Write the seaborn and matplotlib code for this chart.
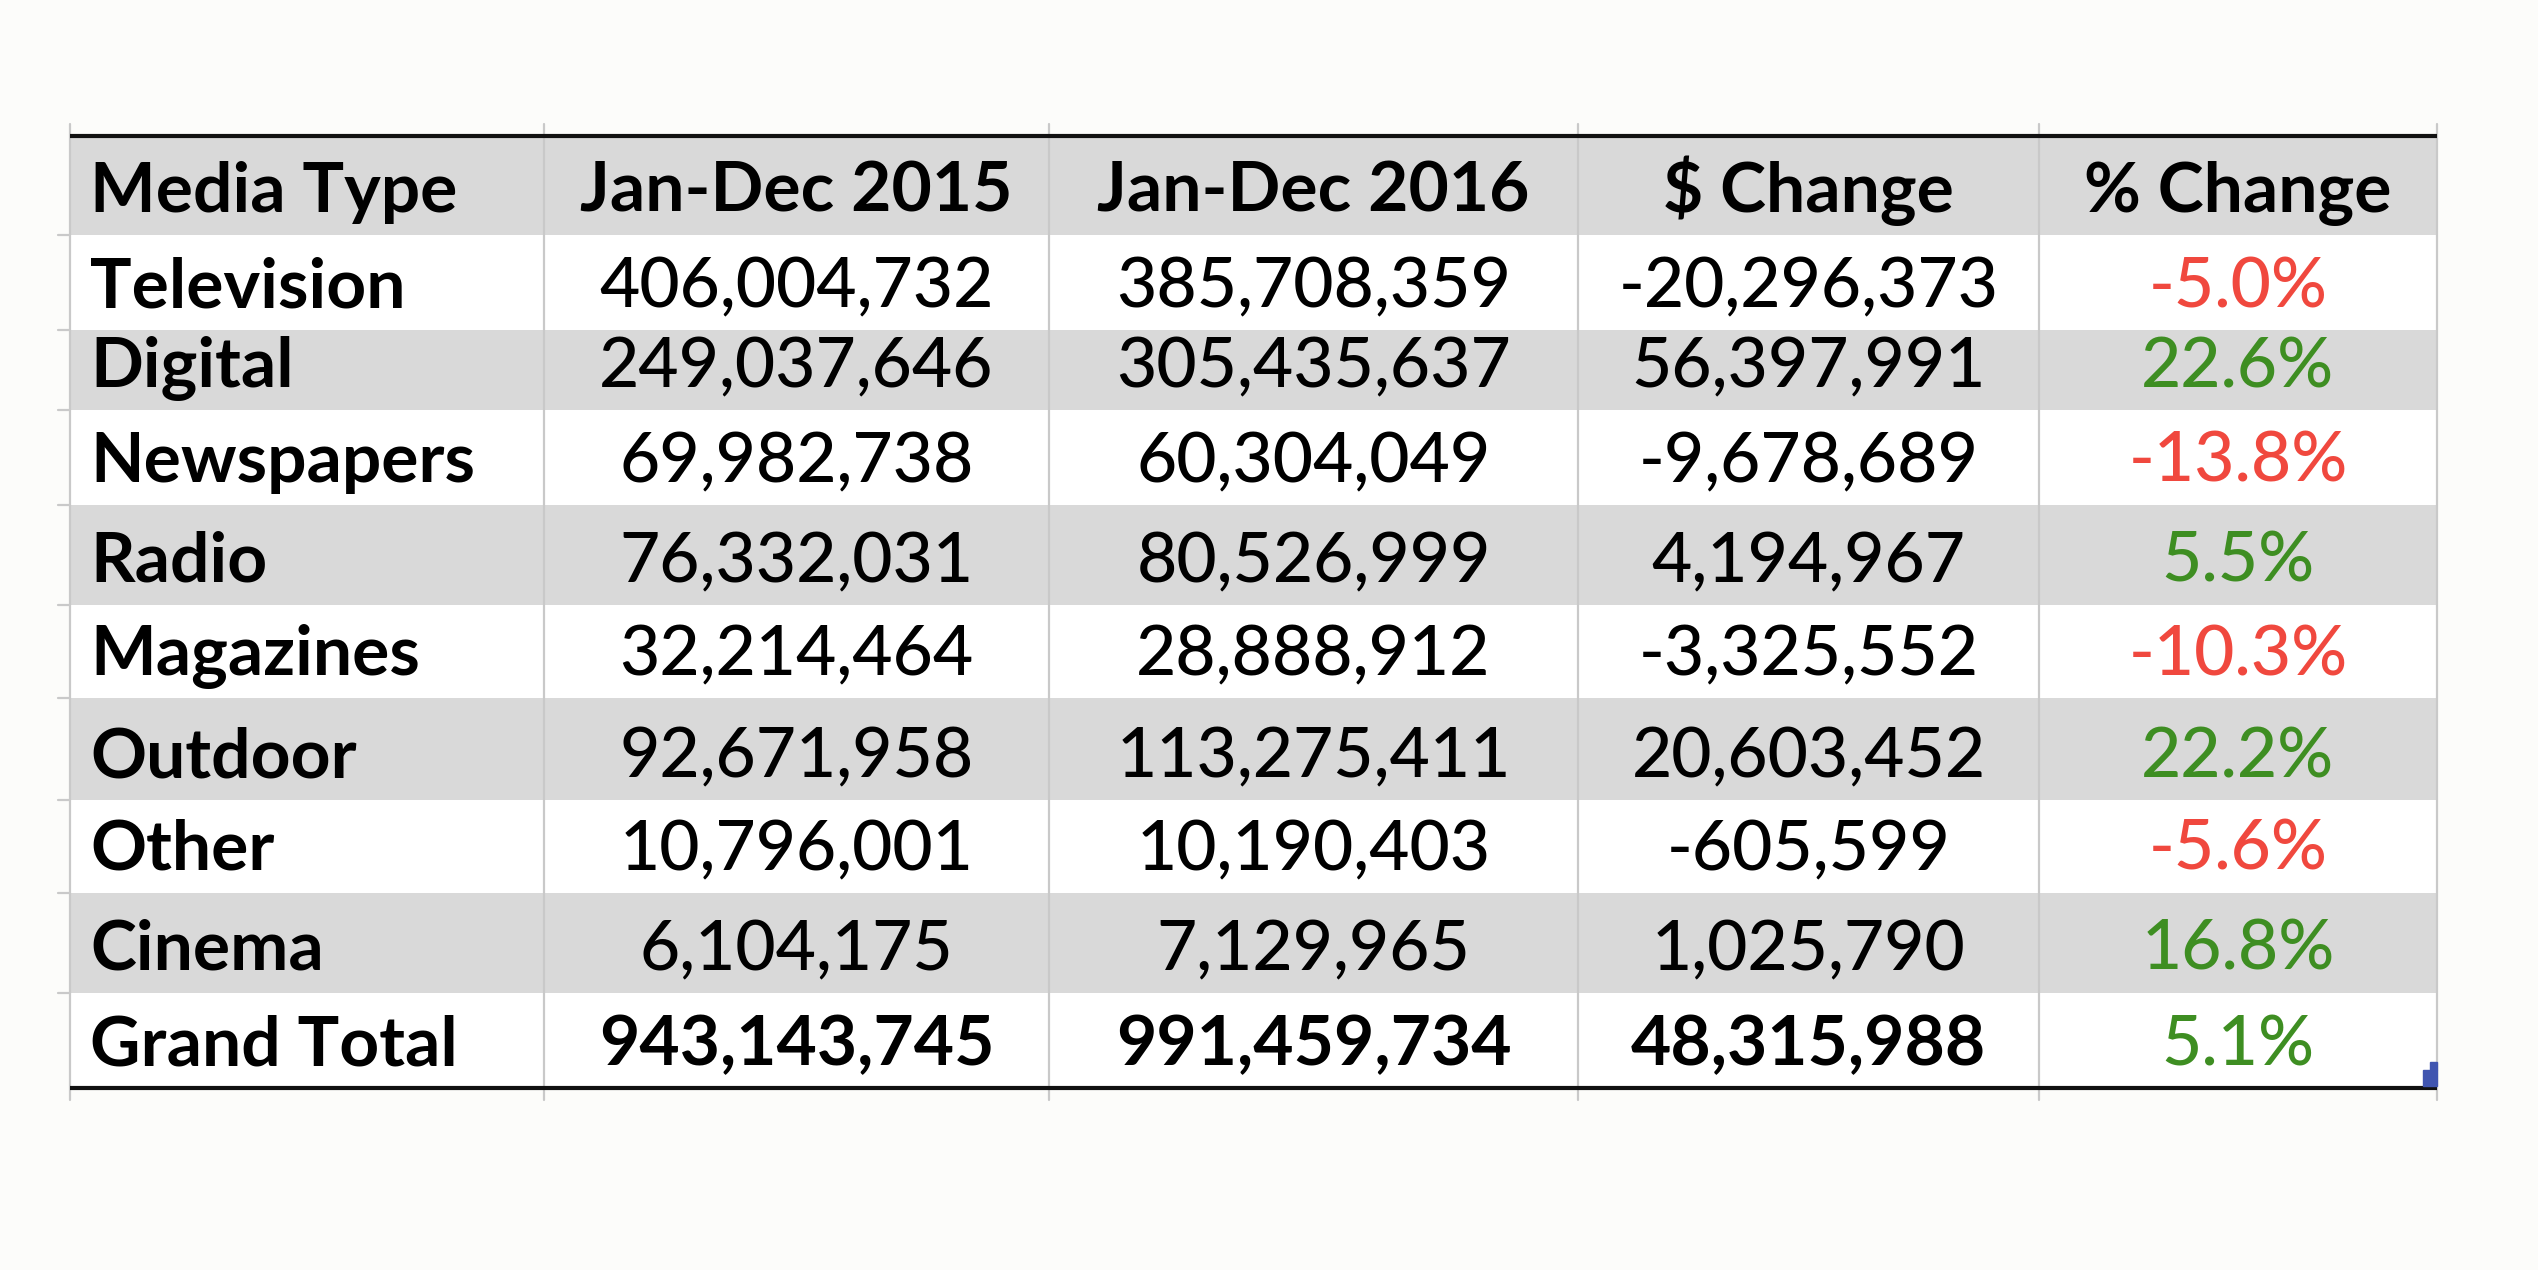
import matplotlib.pyplot as plt
import matplotlib.patches as mpatches
import seaborn as sns

# table contents
headers = ['Media Type', 'Jan-Dec 2015', 'Jan-Dec 2016', '$ Change', '% Change']
media = ['Television', 'Digital', 'Newspapers', 'Radio', 'Magazines',
         'Outdoor', 'Other', 'Cinema', 'Grand Total']
spend_2015 = [406004732, 249037646, 69982738, 76332031, 32214464,
              92671958, 10796001, 6104175, 943143745]
spend_2016 = [385708359, 305435637, 60304049, 80526999, 28888912,
              113275411, 10190403, 7129965, 991459734]
dollar_change = [-20296373, 56397991, -9678689, 4194967, -3325552,
                 20603452, -605599, 1025790, 48315988]
pct_change = [-5.0, 22.6, -13.8, 5.5, -10.3, 22.2, -5.6, 16.8, 5.1]

# layout (pixels)
col_edges = [70, 544, 1049, 1578, 2039, 2437]
row_edges = [136, 235, 330, 410, 505, 605, 698, 800, 893, 993, 1088]

BG = '#fcfcfa'
GRAY = '#d9d9d9'
RED = '#f0483e'
GREEN = '#3e8e22'

sns.set_theme(style='white')
plt.rcParams['font.family'] = ['Lato', 'DejaVu Sans']

fig = plt.figure(figsize=(25.38, 12.70), dpi=100, facecolor=BG)
ax = fig.add_axes([0, 0, 1, 1])
ax.set_facecolor(BG)
ax.set_xlim(0, 2538)
ax.set_ylim(1270, 0)
ax.axis('off')

# row bands (header + alternating rows)
n_rows = len(media) + 1
tops = row_edges[:-1]
heights = [row_edges[i + 1] - row_edges[i] for i in range(n_rows)]
colors = [GRAY if i % 2 == 0 else 'white' for i in range(n_rows)]
ax.barh(tops, [col_edges[-1] - col_edges[0]] * n_rows, height=heights,
        left=col_edges[0], align='edge', color=colors, linewidth=0, zorder=1)

# vertical separators
for x in col_edges:
    ax.plot([x, x], [124, 1100], color='#c9c9c9', lw=1.6, zorder=2)
# little row ticks at left edge
for y in row_edges[1:-1]:
    ax.plot([58, 70], [y, y], color='#c9c9c9', lw=1.6, zorder=2)

# thick top / bottom rules
ax.plot([col_edges[0], col_edges[-1]], [row_edges[0], row_edges[0]],
        color='#111111', lw=3.0, zorder=3, solid_capstyle='butt')
ax.plot([col_edges[0], col_edges[-1]], [row_edges[-1], row_edges[-1]],
        color='#111111', lw=3.0, zorder=3, solid_capstyle='butt')

# selection handle in the corner
ax.add_patch(mpatches.Rectangle((2423, 1070), 14, 16, color='#4055b0', zorder=4))
ax.add_patch(mpatches.Rectangle((2430, 1062), 7, 8, color='#4055b0', zorder=4))

FS = 50
centers_x = [(col_edges[i] + col_edges[i + 1]) / 2 for i in range(5)]


def baseline(i):
    # Excel cells are bottom aligned
    return row_edges[i + 1] - 23


# header row
for j, h in enumerate(headers):
    if j == 0:
        ax.text(col_edges[0] + 20, baseline(0), h, fontsize=FS, fontweight='bold',
                ha='left', va='baseline', color='black', zorder=5)
    else:
        ax.text(centers_x[j], baseline(0), h, fontsize=FS, fontweight='bold',
                ha='center', va='baseline', color='black', zorder=5)

# body rows
for i, name in enumerate(media):
    r = i + 1
    total = name == 'Grand Total'
    w = 'bold' if total else 'medium'
    ax.text(col_edges[0] + 20, baseline(r), name, fontsize=FS, fontweight='bold',
            ha='left', va='baseline', color='black', zorder=5)
    vals = [f'{spend_2015[i]:,}', f'{spend_2016[i]:,}', f'{dollar_change[i]:,}']
    for j, v in enumerate(vals):
        ax.text(centers_x[j + 1], baseline(r), v, fontsize=FS, fontweight=w,
                ha='center', va='baseline', color='black', zorder=5)
    p = pct_change[i]
    ax.text(centers_x[4], baseline(r), f'{p:.1f}%', fontsize=FS, fontweight='medium',
            ha='center', va='baseline', color=RED if p < 0 else GREEN, zorder=5)

fig.savefig('out.png', dpi=100, facecolor=BG)
